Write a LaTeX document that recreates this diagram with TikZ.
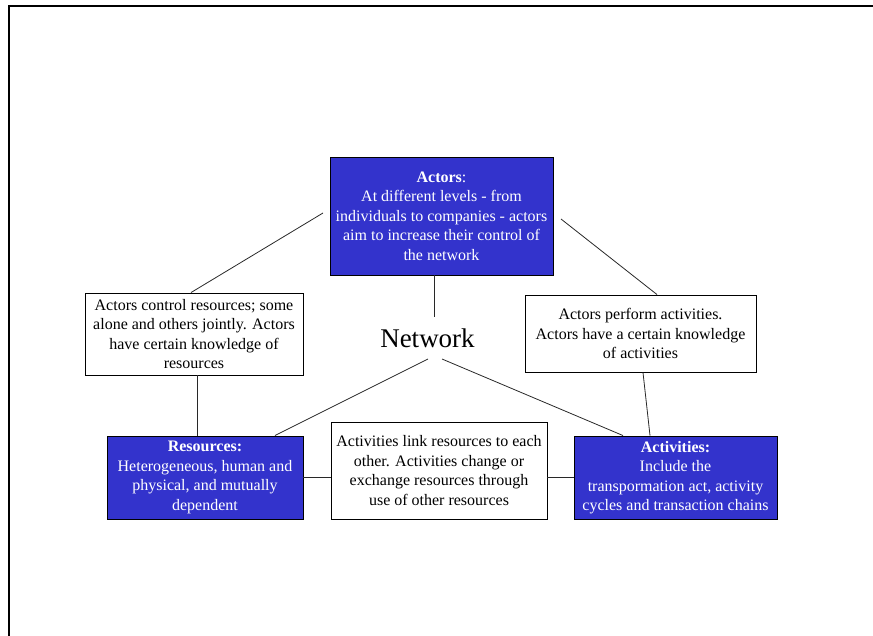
\documentclass[tikz,border=0pt]{standalone}
\usepackage{fontspec}
\setmainfont{Liberation Serif}
\usetikzlibrary{calc}
\definecolor{boxblue}{RGB}{51,51,204}
\definecolor{linegray}{RGB}{40,40,40}
\tikzset{
  bluebox/.style={draw=black, line width=0.9pt, fill=boxblue, text=white, align=center,
    font=\fontsize{16}{19.5}\selectfont, inner sep=0pt},
  whitebox/.style={draw=black, line width=0.9pt, fill=white, text=black, align=center,
    font=\fontsize{16}{19.5}\selectfont, inner sep=0pt},
  conn/.style={draw=linegray, line width=0.8pt},
  frameline/.style={draw=black, line width=2pt}
}
\begin{document}
\begin{tikzpicture}[x=1pt, y=-1pt]
\useasboundingbox (0,0) rectangle (873,636);
\draw[frameline] (9,636) -- (9,6) -- (873,6);

\node[bluebox, minimum width=223pt, minimum height=118pt] (actors) at (441.5,216)
  {\textbf{Actors}:\\At different levels - from\\individuals to companies - actors\\aim to increase their control of\\the network};
\node[whitebox, minimum width=218pt, minimum height=82pt] (lw) at (194,334)
  {Actors control resources; some\\alone and others jointly. Actors\\have certain knowledge of\\resources};
\node[whitebox, minimum width=231pt, minimum height=77pt] (rw) at (640.5,333.5)
  {Actors perform activities.\\Actors have a certain knowledge\\of activities};
\node[bluebox, minimum width=196pt, minimum height=83pt] (res) at (205,477.5)
  {\textbf{Resources:}\\Heterogeneous, human and\\physical, and mutually\\dependent};
\node[whitebox, minimum width=216pt, minimum height=97pt] (mid) at (439,470.5)
  {Activities link resources to each\\other. Activities change or\\exchange resources through\\use of other resources};
\node[bluebox, minimum width=203pt, minimum height=83pt] (act) at (675.5,477.5)
  {\textbf{Activities:}\\Include the\\transpormation act, activity\\cycles and transaction chains};
\node[font=\fontsize{27}{30}\selectfont, inner sep=0pt, minimum height=42pt] (net) at (427.5,338) {Network};

\coordinate (a1) at (323,213);
\coordinate (a2) at (561,219);
\coordinate (x191) at (191,0);
\coordinate (x197) at (197,0);
\coordinate (x434) at (434,0);
\coordinate (x643) at (643,0);
\coordinate (x650) at (650,0);
\coordinate (x657) at (657,0);
\coordinate (x275) at (275,0);
\coordinate (x623) at (623,0);
\coordinate (n1) at (428,359);
\coordinate (n2) at (442,359);

\draw[conn] (a1) -- (lw.north -| x191);
\draw[conn] (a2) -- (rw.north -| x657);
\draw[conn] (actors.south -| x434) -- (net.north -| x434);
\draw[conn] (lw.south -| x197) -- (res.north -| x197);
\draw[conn] (rw.south -| x643) -- (act.north -| x650);
\draw[conn] (n1) -- (res.north -| x275);
\draw[conn] (n2) -- (act.north -| x623);
\draw[conn] (res.east) -- (res.east -| mid.west);
\draw[conn] (mid.east |- act.west) -- (act.west);
\end{tikzpicture}
\end{document}
